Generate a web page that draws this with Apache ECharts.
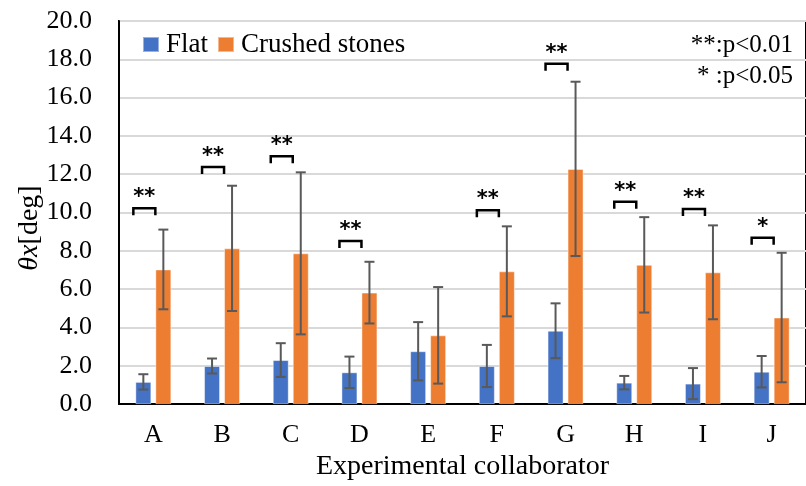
<!DOCTYPE html>
<html>
<head>
<meta charset="utf-8">
<script src="https://cdn.jsdelivr.net/npm/echarts@6/dist/echarts.min.js"></script>
<style>html,body{margin:0;padding:0;background:#fff;}#c{width:806px;height:486px;}</style>
</head>
<body>
<div id="c"></div>
<script>
var categories = ['A','B','C','D','E','F','G','H','I','J'];
var flatMean = [1.16, 1.99, 2.30, 1.66, 2.76, 1.99, 3.83, 1.12, 1.07, 1.69];
var flatSD   = [0.40, 0.39, 0.88, 0.82, 1.52, 1.10, 1.43, 0.35, 0.81, 0.82];
var crushedMean = [7.03, 8.13, 7.87, 5.82, 3.59, 6.93, 12.28, 7.27, 6.88, 4.52];
var crushedSD   = [2.08, 3.27, 4.23, 1.61, 2.52, 2.35, 4.55, 2.49, 2.45, 3.38];
var bracketLevel = [10.22, 12.38, 12.94, 8.51, null, 10.12, 17.77, 10.57, 10.19, 8.69];
var significance = ['**','**','**','**','','**','**','**','**','*'];
var yTicks = [0, 2, 4, 6, 8, 10, 12, 14, 16, 18, 20];
var legendNote1 = '**:p<0.01';
var legendNote2 = '* :p<0.05';

var SERIF = '"Liberation Serif","Times New Roman",serif';
var BAR_W = 16, BAR_OFF = 10, CAP = 5;

function errData(mean, sd){
  return mean.map(function(m,i){ return [i, m - sd[i], m + sd[i]]; });
}
function errRender(offset){
  return function(params, api){
    var i = api.value(0);
    var lo = api.coord([i, api.value(1)]);
    var hi = api.coord([i, api.value(2)]);
    var x = lo[0] + offset;
    var st = {stroke:'#595959', lineWidth:2};
    return {type:'group', children:[
      {type:'line', shape:{x1:x, y1:lo[1], x2:x, y2:hi[1]}, style:st},
      {type:'line', shape:{x1:x-CAP, y1:hi[1], x2:x+CAP, y2:hi[1]}, style:st},
      {type:'line', shape:{x1:x-CAP, y1:lo[1], x2:x+CAP, y2:lo[1]}, style:st}
    ]};
  };
}
var bracketData = [];
bracketLevel.forEach(function(v,i){ if(v !== null) bracketData.push([i, v, significance[i]]); });

var chart = echarts.init(document.getElementById('c'), null, {renderer:'canvas'});
chart.setOption({
  animation:false,
  grid:{left:119, top:21, right:-13, bottom:79, show:true, borderColor:'#000', borderWidth:2, backgroundColor:'transparent'},
  legend:{
    data:['Flat','Crushed stones'], left:142, top:31, padding:0, icon:'rect', itemWidth:16, itemHeight:15, itemGap:9,
    textStyle:{fontFamily:SERIF, fontSize:27, color:'#000', padding:[0,0,0,2]}
  },
  graphic:[
    {type:'text', right:13, top:33, style:{text:legendNote1, font:'25px '+SERIF, fill:'#000', textAlign:'right'}},
    {type:'text', right:13, top:64, style:{text:legendNote2, font:'25px '+SERIF, fill:'#000', textAlign:'right'}},
    {type:'text', x:30, y:228, rotation:Math.PI/2,
     style:{text:'{i|θx}{n|[deg]}', textAlign:'center', textVerticalAlign:'middle',
       rich:{
         i:{fontFamily:SERIF, fontSize:28, fontStyle:'italic', fill:'#000'},
         n:{fontFamily:SERIF, fontSize:28, fill:'#000'}
       }}}
  ],
  xAxis:{
    type:'category', data:categories,
    axisLine:{show:true, lineStyle:{color:'#000', width:2}},
    axisTick:{show:false},
    axisLabel:{fontFamily:SERIF, fontSize:26, color:'#000', margin:18},
    name:'Experimental collaborator', nameLocation:'middle', nameGap:47,
    nameTextStyle:{fontFamily:SERIF, fontSize:28, color:'#000'}
  },
  yAxis:{
    type:'value', min:yTicks[0], max:yTicks[yTicks.length-1], interval:2,
    axisLine:{show:true, lineStyle:{color:'#000', width:2}},
    axisTick:{show:false},
    axisLabel:{fontFamily:SERIF, fontSize:26, color:'#000', margin:27, formatter:function(v){return v.toFixed(1);}},
    splitLine:{lineStyle:{color:'#d9d9d9', width:2}}
  },
  series:[
    {name:'Flat', type:'bar', data:flatMean, barWidth:BAR_W, barGap:'25%',
     itemStyle:{color:'#4472C4', borderColor:'rgba(255,255,255,0.45)', borderWidth:1}},
    {name:'Crushed stones', type:'bar', data:crushedMean, barWidth:BAR_W, barGap:'25%',
     itemStyle:{color:'#ED7D31', borderColor:'rgba(255,255,255,0.45)', borderWidth:1}},
    {type:'custom', name:'flatErr', data:errData(flatMean, flatSD), renderItem:errRender(-BAR_OFF), z:5, silent:true},
    {type:'custom', name:'crushedErr', data:errData(crushedMean, crushedSD), renderItem:errRender(BAR_OFF), z:5, silent:true},
    {type:'custom', name:'sig', data:bracketData, z:6, silent:true,
     renderItem:function(params, api){
       var p = api.coord([api.value(0), api.value(1)]);
       var cx = p[0] - 9, y = p[1], hw = 11, leg = 7;
       var lab = bracketData[params.dataIndex][2];
       return {type:'group', children:[
         {type:'polyline', shape:{points:[[cx-hw, y+leg],[cx-hw, y],[cx+hw, y],[cx+hw, y+leg]]},
          style:{stroke:'#000', lineWidth:2.5, fill:null}},
         {type:'text', style:{text:lab, x:cx, y:y, textAlign:'center', textVerticalAlign:'bottom',
          font:'bold 21px "DejaVu Sans", sans-serif', fill:'#000'}}
       ]};
     }}
  ]
});
</script>
</body>
</html>
